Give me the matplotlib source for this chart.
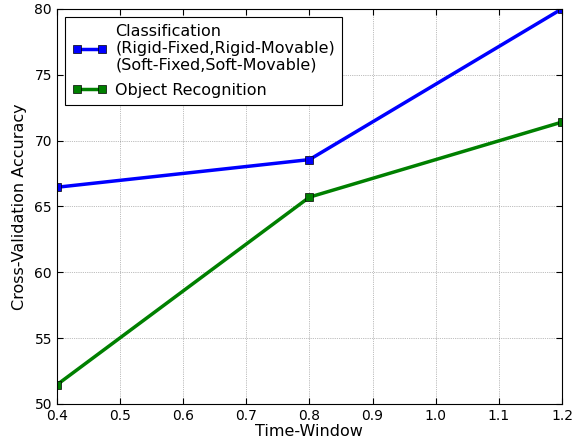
import matplotlib
matplotlib.use("Agg")
import matplotlib.pyplot as plt

# data
time_window = [0.4, 0.8, 1.2]
classification = [66.45, 68.55, 80.0]
object_recognition = [51.45, 65.7, 71.4]

plt.rcParams['xtick.direction'] = 'in'
plt.rcParams['ytick.direction'] = 'in'
plt.rcParams['font.family'] = 'DejaVu Sans'

fig = plt.figure(figsize=(5.8, 4.4), dpi=100)
ax = fig.add_axes([0.098, 0.082, 0.871, 0.898])

ax.plot(time_window, classification, color='blue', lw=2.5, marker='s', ms=5.5,
        mec='black', mew=0.5,
        label="Classification\n(Rigid-Fixed,Rigid-Movable)\n(Soft-Fixed,Soft-Movable)")
ax.plot(time_window, object_recognition, color='green', lw=2.5, marker='s', ms=5.5,
        mec='black', mew=0.5, label="Object Recognition")

ax.set_xlim(0.4, 1.2)
ax.set_ylim(50, 80)
ax.set_xticks([0.4, 0.5, 0.6, 0.7, 0.8, 0.9, 1.0, 1.1, 1.2])
ax.set_yticks([50, 55, 60, 65, 70, 75, 80])
ax.tick_params(labelsize=10, top=True, right=True, length=4)
ax.grid(True, color='black', linestyle=':', lw=0.5, alpha=0.5)

ax.set_xlabel("Time-Window", fontsize=11.5, labelpad=1)
ax.set_ylabel("Cross-Validation Accuracy", fontsize=11.5, labelpad=5)

leg = ax.legend(loc='upper left', fontsize=11.5, numpoints=2, fancybox=False,
                framealpha=1, edgecolor='black', handlelength=2.2,
                handletextpad=0.5, borderpad=0.45, labelspacing=0.65)
leg.get_frame().set_linewidth(0.8)
for t in leg.get_texts():
    t.set_linespacing(1.15)

fig.savefig("out.png", dpi=100)
